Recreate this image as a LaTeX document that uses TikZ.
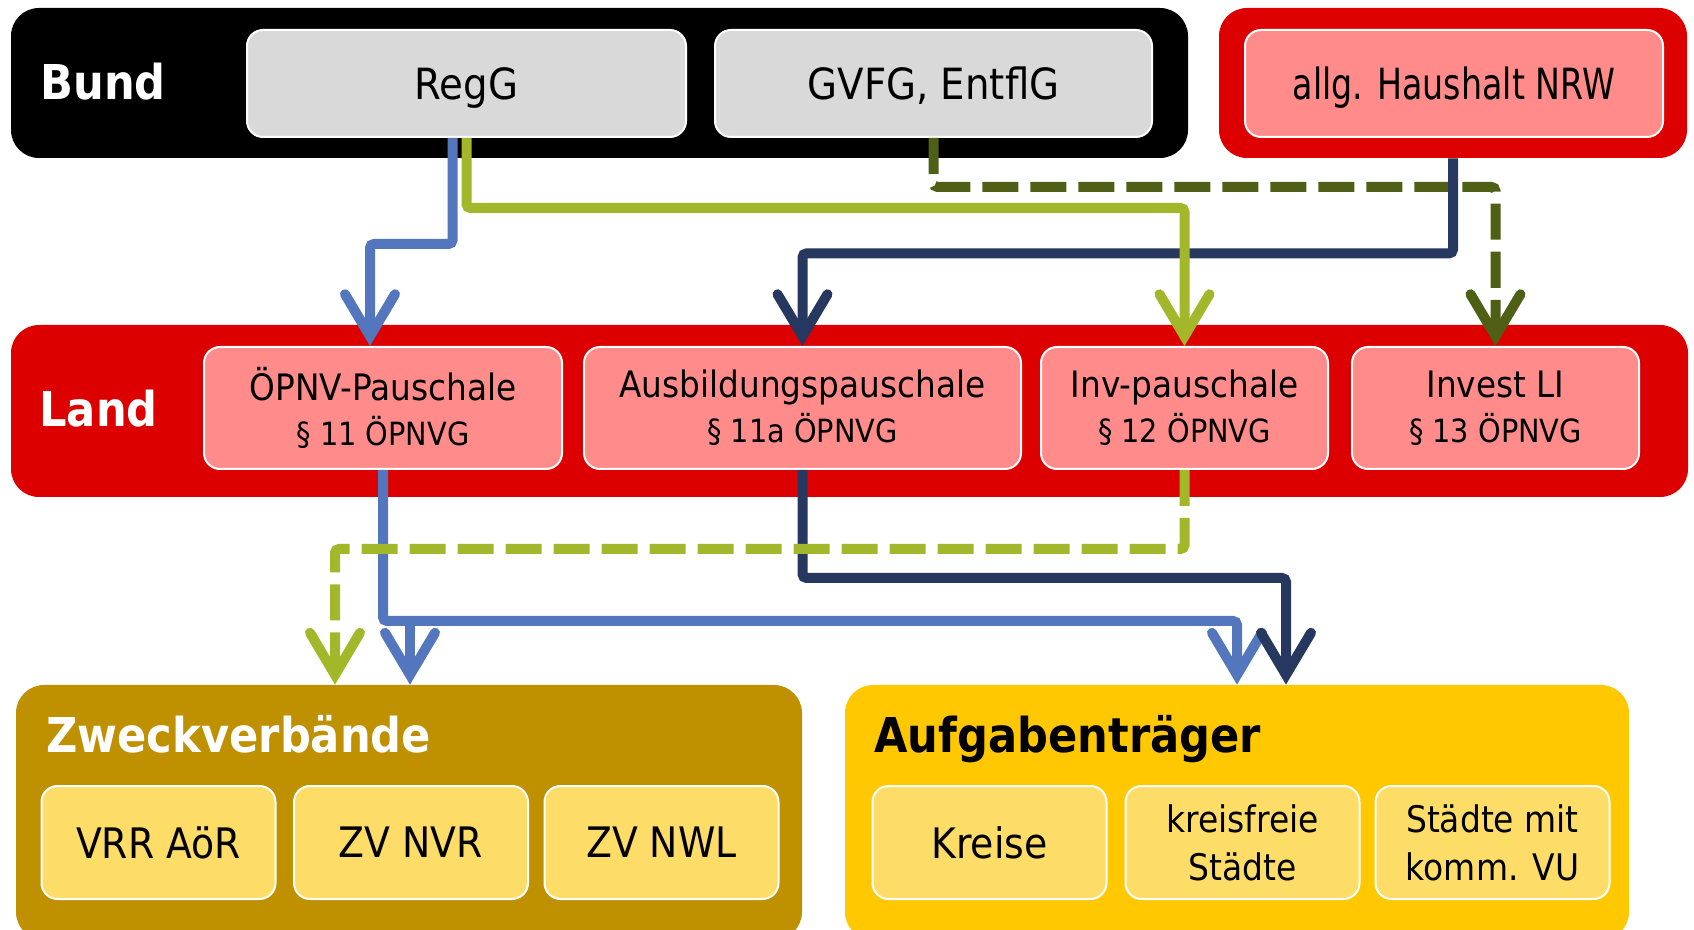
\documentclass[tikz,border=0pt]{standalone}
\usepackage{fontspec}
\setmainfont{DejaVu Sans}[FakeStretch=0.9]
\usetikzlibrary{arrows.meta}

\definecolor{bandred}{HTML}{DC0000}
\definecolor{panelpink}{HTML}{FF8B8B}
\definecolor{panelgray}{HTML}{D9D9D9}
\definecolor{zvgold}{HTML}{BF9000}
\definecolor{atyellow}{HTML}{FFC800}
\definecolor{panelyellow}{HTML}{FEDC68}
\definecolor{flowblue}{HTML}{5476BC}
\definecolor{flownavy}{HTML}{273860}
\definecolor{flowgreen}{HTML}{A2B82A}
\definecolor{flowolive}{HTML}{4F6016}

% first line slightly larger than the paragraph reference line
\newcommand\twoline[2]{{\fontsize{18.2}{22.5}\selectfont #1}\\#2}

\begin{document}
\begin{tikzpicture}[x=0.5pt,y=-0.5pt,
  band/.style={fill=#1, rounded corners=14pt, inner sep=0pt},
  panel/.style={draw=white, line width=1pt, fill=#1, rounded corners=8pt,
    inner sep=0pt, align=center},
  title/.style={anchor=base west, inner sep=0pt, font=\bfseries\fontsize{24}{28}\selectfont},
  topfont/.style={font=\fontsize{21.5}{26}\selectfont, text height=15.7pt, text depth=0pt},
  botfont/.style={font=\fontsize{21}{25}\selectfont},
  landbox/.style={panel=panelpink, minimum height=61pt, font=\fontsize{16}{22.5}\selectfont},
  ybox/.style={panel=panelyellow, minimum width=117pt, minimum height=56.5pt},
  flow/.style={line width=5pt, rounded corners=2pt,
    -{Straight Barb[length=21pt,width=25pt,line cap=round,line join=miter]}},
  dashflow/.style={flow, dash pattern=on 18pt off 6pt},
]
\useasboundingbox (0,0) rectangle (1694,930);
\clip (0,0) rectangle (1694,930);

% federal level
\node[band=black, minimum width=588.5pt, minimum height=75pt] (bund) at (599.5,83) {};
\node[band=bandred, minimum width=234pt, minimum height=75pt] (nrw) at (1453,83) {};
\node[title, text=white] at (40,100) {Bund};
\node[panel=panelgray, topfont, minimum width=219.5pt, minimum height=53.5pt] (regg) at (466.5,83.5) {RegG};
\node[panel=panelgray, topfont, minimum width=218.5pt, minimum height=53.5pt] (gvfg) at (933.5,83.5) {GVFG, EntflG};
\node[panel=panelpink, topfont, minimum width=209pt, minimum height=53.5pt] (allg) at (1454,83.5) {\scalebox{0.86}[1]{allg. Haushalt NRW}};

% state level
\node[band=bandred, minimum width=838.5pt, minimum height=86pt] (land) at (849.5,411) {};
\node[title, text=white] at (39,427) {Land};
\node[landbox, minimum width=179pt] (oepnv) at (383,408) {\twoline{ÖPNV-Pauschale}{§ 11 ÖPNVG}};
\node[landbox, minimum width=218.5pt] (ausb) at (802.5,408) {\twoline{Ausbildungspauschale}{§ 11a ÖPNVG}};
\node[landbox, minimum width=143.5pt] (inv) at (1184.5,408) {\twoline{Inv-pauschale}{§ 12 ÖPNVG}};
\node[landbox, minimum width=143.5pt] (invest) at (1495.5,408) {\twoline{Invest LI}{§ 13 ÖPNVG}};

% recipients
\node[band=zvgold, minimum width=393pt, minimum height=127.5pt] (zweck) at (409,812.5) {};
\node[title, text=white] at (46,753) {Zweckverbände};
\node[band=atyellow, minimum width=392pt, minimum height=127.5pt] (aufg) at (1237,812.5) {};
\node[title, text=black] at (874,753) {Aufgabenträger};
\node[ybox, botfont] (vrr) at (158.5,842.5) {VRR AöR};
\node[ybox, botfont] (nvr) at (411,842.5) {ZV NVR};
\node[ybox, botfont] (nwl) at (661.5,842.5) {ZV NWL};
\node[ybox, botfont] (kreise) at (989.5,842.5) {Kreise};
\node[ybox, font=\fontsize{18.3}{24}\selectfont] (kfs) at (1242.5,842.5) {kreisfreie\\Städte};
\node[ybox, font=\fontsize{18.3}{24}\selectfont] (svu) at (1492.5,842.5) {Städte mit\\komm. VU};

% funding flows: federal -> state
\draw[dashflow, flowolive] (gvfg.south) -- ++(0,49) -| (invest.north);
\draw[flow, flownavy] (nrw.south) -- ++(0,95) -| (ausb.north);
\draw[flow, flowgreen] (regg.south) -- ++(0,70) -| (inv.north);
\draw[flow, flowblue] ([xshift=-7pt]regg.south) -- ++(0,106) -| ([xshift=-6.5pt]oepnv.north);

% funding flows: state -> recipients
\draw[flow, flowblue] (oepnv.south) -- ++(0,151) -| (aufg.north);
\coordinate (bj) at (410,620);
\draw[flow, flowblue] (bj) -- (bj |- zweck.north);
\draw[flow, flownavy] (ausb.south) -- ++(0,108) -| ([xshift=24.5pt]aufg.north);
\draw[dashflow, flowgreen] (inv.south) -- ++(0,79) -| ([xshift=-37pt]zweck.north);
\end{tikzpicture}
\end{document}
